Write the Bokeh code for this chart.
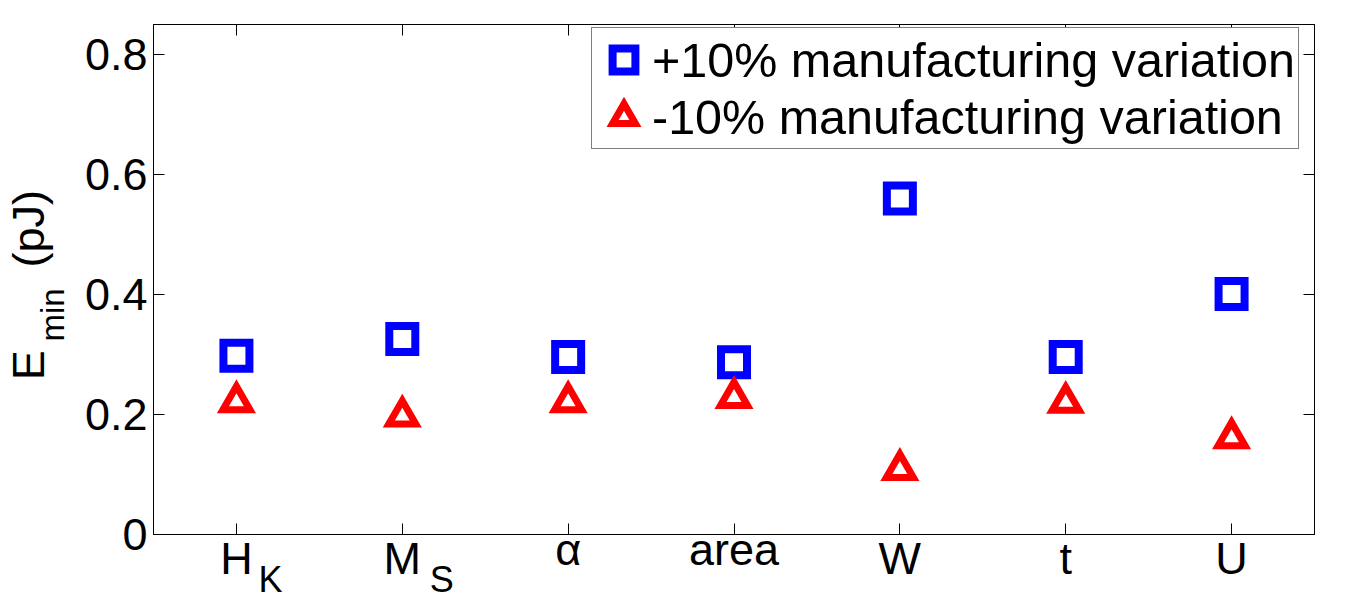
from bokeh.plotting import figure
from bokeh.models import FixedTicker, LinearAxis, Legend, LegendItem, Range1d
from bokeh.embed import file_html
from bokeh.resources import INLINE

# ---- data ----
categories = ["H", "M", "α", "area", "W", "t", "U"]
subscripts = ["K", "S", "", "", "", "", ""]
plus10 = [0.298, 0.326, 0.296, 0.287, 0.560, 0.296, 0.401]
minus10 = [0.221, 0.197, 0.221, 0.228, 0.108, 0.220, 0.161]
y_ticks = [0, 0.2, 0.4, 0.6, 0.8]
y_tick_labels = ["0", "0.2", "0.4", "0.6", "0.8"]
series_labels = ["+10% manufacturing variation", "-10% manufacturing variation"]
y_label_main, y_label_sub, y_label_unit = "E", "min", "(pJ)"

# ---- style ----
FONT = "Liberation Sans"
TICK_FS = 45
SUB_FS = 36
PX_PER_X = 166.0
sub_shift_px = {"H": 34, "M": 39.5}          # subscript centre right of tick
low_labels = {"α", "area"}                    # labels with no tall letters
# y-label piece centres (data units along the y axis)
ylab_pos = {"E": 0.282, "min": 0.366, "(pJ)": 0.5096}

x = list(range(1, len(categories) + 1))

p = figure(width=1356, height=602, output_backend="svg", toolbar_location=None,
           x_range=Range1d(0.5, len(categories) + 0.5), y_range=Range1d(0, 0.85),
           min_border_left=152, min_border_right=42, min_border_top=24,
           min_border_bottom=66)
p.xgrid.visible = False
p.ygrid.visible = False
p.outline_line_color = "black"
p.outline_line_width = 1
p.background_fill_color = "white"
p.border_fill_color = "white"


def hidden_axis(ax):
    ax.axis_line_color = None
    ax.major_tick_line_color = None
    ax.minor_tick_line_color = None
    ax.major_tick_in = 0
    ax.major_tick_out = 0
    ax.major_label_text_color = "black"
    ax.major_label_text_font = FONT


# main x axis: ticks + the short labels
xa = p.xaxis[0]
xa.ticker = FixedTicker(ticks=x)
xa.major_label_overrides = {xi: (c if c in low_labels else "") for xi, c in zip(x, categories)}
xa.major_label_text_font = FONT
xa.major_label_text_font_size = f"{TICK_FS}px"
xa.major_label_text_color = "black"
xa.major_label_standoff = -11

# tall x labels
tall_x = [xi for xi, c in zip(x, categories) if c not in low_labels]
xb = LinearAxis(ticker=FixedTicker(ticks=tall_x),
                major_label_overrides={xi: c for xi, c in zip(x, categories) if c not in low_labels},
                major_label_text_font_size=f"{TICK_FS}px", major_label_standoff=-45)
hidden_axis(xb)
p.add_layout(xb, "below")

# subscripts
sub_pos = [xi + sub_shift_px.get(c, 0) / PX_PER_X for xi, c, s in zip(x, categories, subscripts) if s]
sub_txt = [s for s in subscripts if s]
xc = LinearAxis(ticker=FixedTicker(ticks=sub_pos),
                major_label_overrides=dict(zip(sub_pos, sub_txt)),
                major_label_text_font_size=f"{SUB_FS}px", major_label_standoff=-28)
hidden_axis(xc)
p.add_layout(xc, "below")

# y axis
ya = p.yaxis[0]
ya.ticker = FixedTicker(ticks=y_ticks)
ya.major_label_overrides = dict(zip(y_ticks, y_tick_labels))
ya.major_label_text_font = FONT
ya.major_label_text_font_size = f"{TICK_FS}px"
ya.major_label_text_color = "black"
ya.major_label_standoff = 6

# y label pieces as rotated label axes ("E ... (pJ)" first, then the subscript)
yE_ax = LinearAxis(ticker=FixedTicker(ticks=[ylab_pos[y_label_main], ylab_pos[y_label_unit]]),
                   major_label_overrides={ylab_pos[y_label_main]: y_label_main,
                                          ylab_pos[y_label_unit]: y_label_unit},
                   major_label_orientation="parallel",
                   major_label_text_font_size=f"{TICK_FS}px", major_label_standoff=27)
hidden_axis(yE_ax)
p.add_layout(yE_ax, "left")
ymin_ax = LinearAxis(ticker=FixedTicker(ticks=[ylab_pos[y_label_sub]]),
                     major_label_overrides={ylab_pos[y_label_sub]: y_label_sub},
                     major_label_orientation="parallel",
                     major_label_text_font_size="33px", major_label_standoff=-71)
hidden_axis(ymin_ax)
p.add_layout(ymin_ax, "left")

# mirrored axes (ticks only)
top = LinearAxis(ticker=FixedTicker(ticks=x), major_label_text_font_size="1px",
                 major_label_text_color=None, major_label_standoff=0)
right = LinearAxis(ticker=FixedTicker(ticks=y_ticks), major_label_text_font_size="1px",
                   major_label_text_color=None, major_label_standoff=0)
p.add_layout(top, "above")
p.add_layout(right, "right")

for ax in [xa, ya, top, right]:
    ax.major_tick_in = 11
    ax.major_tick_out = 0
    ax.minor_tick_line_color = None
    ax.axis_line_color = "black"
    ax.major_tick_line_color = "black"
    ax.axis_line_width = 1

r1 = p.scatter(x, plus10, marker="square", size=26, line_color="#0000ff",
               fill_color=None, line_width=8, line_join="miter")
r2 = p.scatter(x, minus10, marker="triangle", size=27, line_color="#ff0000",
               fill_color=None, line_width=7, line_join="miter")

legend = Legend(items=[LegendItem(label=series_labels[0], renderers=[r1]),
                       LegendItem(label=series_labels[1], renderers=[r2])],
                location=(438, 385), padding=3, spacing=-5,
                glyph_width=57, glyph_height=57, label_standoff=0, label_height=54,
                label_text_font=FONT, label_text_font_size="48.5px",
                label_text_color="black",
                border_line_color="black", border_line_width=1,
                background_fill_color="white", background_fill_alpha=1)
p.add_layout(legend)

open("out.html", "w").write(file_html(p, INLINE))
